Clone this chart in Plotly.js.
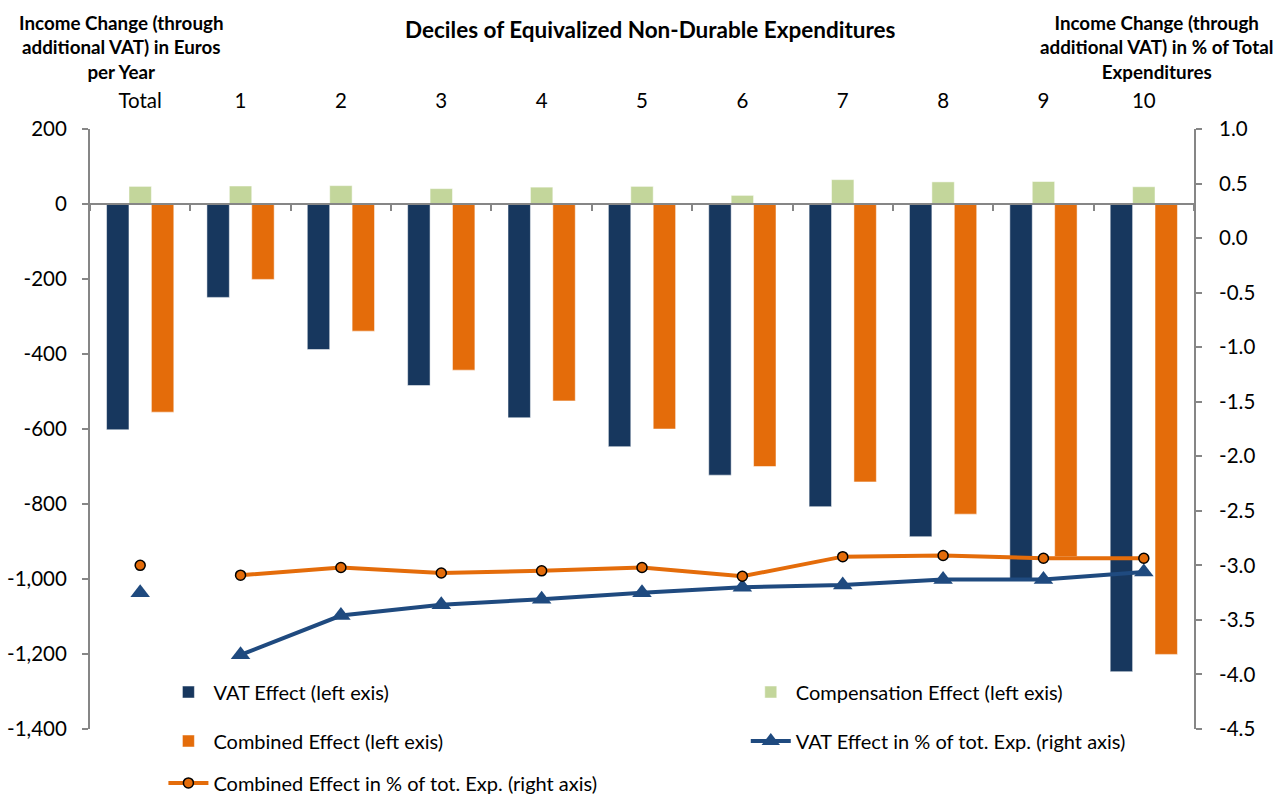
<!DOCTYPE html>
<html>
<head>
<meta charset="utf-8">
<script src="https://cdn.plot.ly/plotly-3.0.1.min.js"></script>
<style>html,body{margin:0;padding:0;background:#fff;}#chart{width:1279px;height:797px;}</style>
</head>
<body>
<div id="chart"></div>
<script>
var categories = ["Total","1","2","3","4","5","6","7","8","9","10"];
var deciles = ["1","2","3","4","5","6","7","8","9","10"];
var vatEffect = [-602,-249,-388,-484,-570,-647,-723,-807,-887,-1002,-1247];
var compEffect = [47,48,49,41,45,47,23,65,59,60,46];
var combinedEffect = [-555,-201,-339,-443,-525,-600,-700,-741,-827,-940,-1201];
var vatPctDeciles = [-3.82,-3.46,-3.36,-3.31,-3.25,-3.20,-3.18,-3.13,-3.13,-3.06];
var combPctDeciles = [-3.09,-3.02,-3.07,-3.05,-3.02,-3.10,-2.92,-2.91,-2.935,-2.935];
var vatPctTotal = [-3.25];
var combPctTotal = [-3.0];
var leftTickVals = [200,0,-200,-400,-600,-800,-1000,-1200,-1400];
var leftTickText = ["200","0","-200","-400","-600","-800","-1,000","-1,200","-1,400"];
var rightTickVals = [1.0,0.5,0.0,-0.5,-1.0,-1.5,-2.0,-2.5,-3.0,-3.5,-4.0,-4.5];
var rightTickText = ["1.0","0.5","0.0","-0.5","-1.0","-1.5","-2.0","-2.5","-3.0","-3.5","-4.0","-4.5"];
var names = ["VAT Effect (left exis)","Compensation Effect (left exis)","Combined Effect (left exis)","VAT Effect in % of tot. Exp. (right axis)","Combined Effect in % of tot. Exp. (right axis)"];

var leftRange = [-1400, 200];
var rightRange = [-4.5, 1.0];
var FONT = "Lato, 'Open Sans', sans-serif";
var GREY = "#868686";
var NAVY = "#17375E";
var GREEN = "#C3D69B";
var ORANGE = "#E46C0A";
var BLUE = "#1F4A7F";

var traces = [
  {type:"bar", x:categories, y:vatEffect, name:names[0], marker:{color:NAVY, line:{color:"#ffffff", width:0.5}}, legend:"legend", xaxis:"x", yaxis:"y"},
  {type:"bar", x:categories, y:compEffect, name:names[1], marker:{color:GREEN, line:{color:"#ffffff", width:0.5}}, legend:"legend2", xaxis:"x", yaxis:"y"},
  {type:"bar", x:categories, y:combinedEffect, name:names[2], marker:{color:ORANGE, line:{color:"#ffffff", width:0.5}}, legend:"legend3", xaxis:"x", yaxis:"y"},
  {type:"scatter", mode:"lines+markers", x:deciles, y:vatPctDeciles, name:names[3], line:{color:BLUE, width:4}, marker:{symbol:"triangle-up", size:17, color:BLUE}, legend:"legend4", xaxis:"x", yaxis:"y2"},
  {type:"scatter", mode:"lines+markers", x:deciles, y:combPctDeciles, name:names[4], line:{color:ORANGE, width:4}, marker:{symbol:"circle", size:10, color:ORANGE, line:{color:"#000000", width:1.5}}, legend:"legend5", xaxis:"x", yaxis:"y2"},
  {type:"scatter", mode:"markers", x:["Total"], y:vatPctTotal, showlegend:false, marker:{symbol:"triangle-up", size:17, color:BLUE}, xaxis:"x2", yaxis:"y2"},
  {type:"scatter", mode:"markers", x:["Total"], y:combPctTotal, showlegend:false, marker:{symbol:"circle", size:10, color:ORANGE, line:{color:"#000000", width:1.5}}, xaxis:"x2", yaxis:"y2"}
];

var zeroPos = (0 - leftRange[0]) / (leftRange[1] - leftRange[0]);
function leg(x, y) {
  return {orientation:"h", x:x, y:y, xanchor:"left", yanchor:"middle", font:{family:FONT, size:20, color:"#000"}, bgcolor:"rgba(0,0,0,0)", itemwidth:40};
}
var col1 = 0.0665, col2 = 0.594;
var row1 = 0.0616, row2 = -0.02, row3 = -0.0899;

var layout = {
  width:1279, height:797,
  margin:{l:89.5, r:85, t:128.5, b:68, autoexpand:false},
  paper_bgcolor:"#ffffff", plot_bgcolor:"#ffffff",
  font:{family:FONT, size:20, color:"#000"},
  barmode:"group", bargap:0.33, bargroupgap:0,
  showlegend:true,
  xaxis:{type:"category", categoryorder:"array", categoryarray:categories, range:[-0.5,10.5], side:"top", anchor:"y", showline:false, ticks:"", showgrid:false, zeroline:false, ticklabelstandoff:16, tickfont:{family:FONT, size:20.5, color:"#000"}},
  xaxis2:{type:"category", categoryorder:"array", categoryarray:categories, matches:"x", overlaying:"x", anchor:"free", position:zeroPos, side:"bottom", showline:true, linecolor:GREY, linewidth:2, ticks:"outside", tickson:"boundaries", ticklen:6, tickwidth:1.5, tickcolor:GREY, showticklabels:false, showgrid:false, zeroline:false},
  yaxis:{range:leftRange, tickvals:leftTickVals, ticktext:leftTickText, showline:true, linecolor:GREY, linewidth:2, ticks:"outside", ticklen:6, tickwidth:1.5, tickcolor:GREY, showgrid:false, zeroline:false, ticklabelstandoff:11, tickfont:{family:FONT, size:20.5, color:"#000"}},
  yaxis2:{range:rightRange, overlaying:"y", side:"right", anchor:"x", tickvals:rightTickVals, ticktext:rightTickText, showline:true, linecolor:GREY, linewidth:2, ticks:"outside", ticklen:6, tickwidth:1.5, tickcolor:GREY, showgrid:false, zeroline:false, ticklabelstandoff:13, tickfont:{family:FONT, size:20.5, color:"#000"}},
  legend:leg(col1, row1),
  legend2:leg(col2, row1),
  legend3:leg(col1, row2),
  legend4:leg(col2, row2),
  legend5:leg(col1, row3),
  annotations:[
    {xref:"paper", yref:"paper", x:0.508, y:1, xanchor:"center", yanchor:"middle", text:"<b>Deciles of Equivalized Non-Durable Expenditures</b>", showarrow:false, font:{family:FONT, size:22.5, color:"#000"}, yshift:99.5},
    {xref:"paper", yref:"paper", x:0.0285, y:1, xanchor:"center", yanchor:"bottom", align:"center", yshift:44, text:"<b>Income Change (through<br>additional VAT) in Euros<br>per Year</b>", showarrow:false, font:{family:FONT, size:18.8, color:"#000"}},
    {xref:"paper", yref:"paper", x:0.9656, y:1, xanchor:"center", yanchor:"bottom", align:"center", yshift:44, text:"<b>Income Change (through<br>additional VAT) in % of Total<br>Expenditures</b>", showarrow:false, font:{family:FONT, size:18.8, color:"#000"}}
  ]
};

Plotly.newPlot("chart", traces, layout, {displayModeBar:false, responsive:false});
</script>
</body>
</html>
